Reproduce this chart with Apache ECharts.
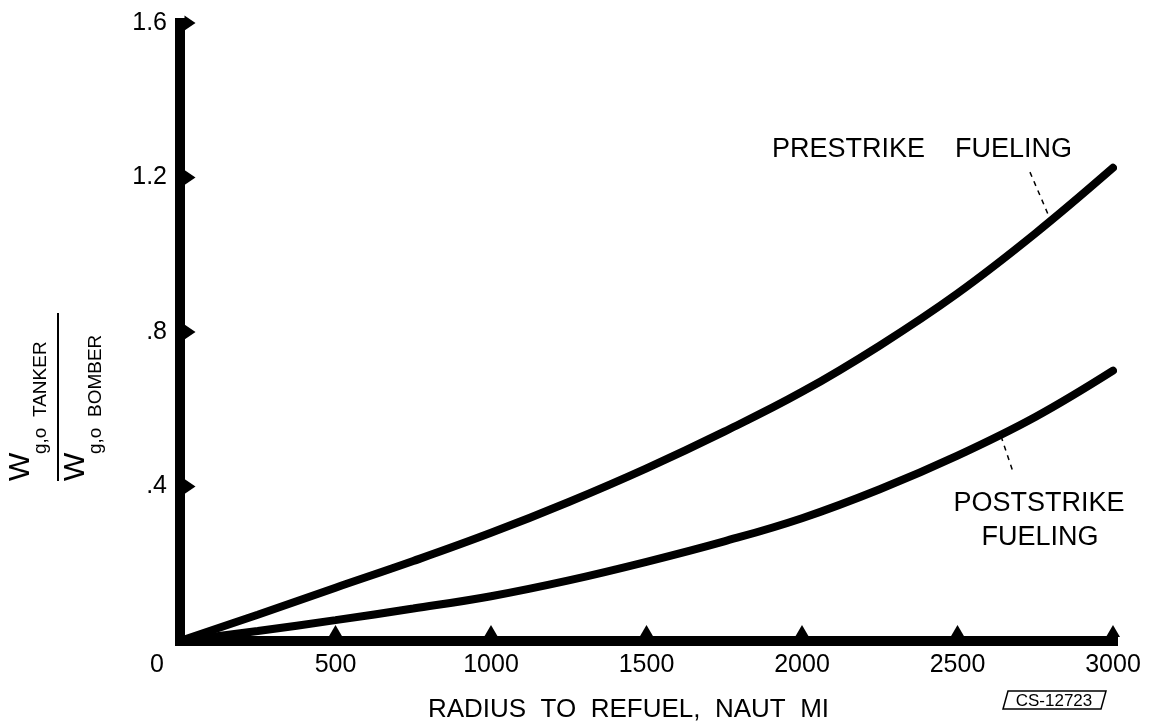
<!DOCTYPE html>
<html>
<head>
<meta charset="utf-8">
<script src="https://cdn.jsdelivr.net/npm/echarts@6/dist/echarts.min.js"></script>
<style>
  html, body { margin: 0; padding: 0; background: #fff; }
  #main { width: 1157px; height: 728px; }
</style>
</head>
<body>
<div id="main"></div>
<script>
var myChart = echarts.init(document.getElementById('main'));

// radius to refuel, naut mi
var radius = [0, 250, 500, 750, 1000, 1250, 1500, 1750, 2000, 2250, 2500, 2750, 3000];
// gross weight ratio tanker / bomber
var prestrike = [0, 0.068, 0.138, 0.207, 0.28, 0.36, 0.447, 0.542, 0.645, 0.765, 0.9, 1.055, 1.225];
var poststrike = [0, 0.026, 0.054, 0.084, 0.116, 0.157, 0.205, 0.258, 0.318, 0.393, 0.48, 0.58, 0.70];

var xTicks = [500, 1000, 1500, 2000, 2500, 3000];
var yTicks = [0.4, 0.8, 1.2, 1.6];
var yTickLabels = { '0.4': '.4', '0.8': '.8', '1.2': '1.2', '1.6': '1.6' };

var font = '"Liberation Sans", Arial, sans-serif';

function pairs(xs, ys) {
    return xs.map(function (x, i) { return [x, ys[i]]; });
}

option = {
    backgroundColor: '#ffffff',
    animation: false,
    grid: { left: 180, right: 44, top: 23, bottom: 75 },
    xAxis: {
        type: 'value',
        min: 0,
        max: 3000,
        interval: 500,
        name: 'RADIUS  TO  REFUEL,  NAUT  MI',
        nameLocation: 'middle',
        nameGap: 56,
        nameTextStyle: { color: '#000', fontSize: 26, fontFamily: font, padding: [0, 36, 0, 0] },
        axisLine: { lineStyle: { color: '#000', width: 10, cap: 'square' } },
        axisTick: { show: false },
        splitLine: { show: false },
        axisLabel: {
            color: '#000',
            fontSize: 25,
            fontFamily: font,
            margin: 12,
            formatter: function (v) { return v === 0 ? '{z|0}' : String(v); },
            rich: { z: { color: '#000', fontSize: 25, fontFamily: font, padding: [0, 46, 0, 0] } }
        }
    },
    yAxis: {
        type: 'value',
        min: 0,
        max: 1.6,
        interval: 0.4,
        axisLine: { lineStyle: { color: '#000', width: 10, cap: 'square' } },
        axisTick: { show: false },
        splitLine: { show: false },
        axisLabel: {
            color: '#000',
            fontSize: 25,
            fontFamily: font,
            margin: 13,
            formatter: function (v) { return yTickLabels[String(+v.toFixed(1))] || ''; }
        }
    },
    series: [
        {
            name: 'PRESTRIKE FUELING',
            type: 'line',
            smooth: 0.4,
            symbol: 'none',
            lineStyle: { color: '#000', width: 8, cap: 'round' },
            data: pairs(radius, prestrike),
            markLine: {
                silent: true,
                symbol: 'none',
                label: { show: false },
                lineStyle: { color: '#000', type: [5, 5], width: 1.5 },
                data: [[{ coord: [2733, 1.214] }, { coord: [2791, 1.105] }]]
            }
        },
        {
            name: 'POSTSTRIKE FUELING',
            type: 'line',
            smooth: 0.4,
            symbol: 'none',
            lineStyle: { color: '#000', width: 8, cap: 'round' },
            data: pairs(radius, poststrike),
            markLine: {
                silent: true,
                symbol: 'none',
                label: { show: false },
                lineStyle: { color: '#000', type: [5, 5], width: 1.5 },
                data: [[{ coord: [2640, 0.53] }, { coord: [2678, 0.439] }]]
            }
        },
        {
            // tick triangles on x axis
            type: 'scatter',
            symbol: 'triangle',
            symbolSize: [14, 12],
            symbolOffset: [0, -10],
            itemStyle: { color: '#000', opacity: 1 },
            silent: true,
            data: xTicks.map(function (x) { return [x, 0]; })
        },
        {
            // tick triangles on y axis
            type: 'scatter',
            symbol: 'triangle',
            symbolSize: [15, 11],
            symbolRotate: -90,
            symbolOffset: [10, 0],
            itemStyle: { color: '#000', opacity: 1 },
            silent: true,
            data: yTicks.map(function (y) { return [0, y]; })
        }
    ],
    graphic: [
        {
            type: 'group',
            x: 58,
            y: 397,
            rotation: Math.PI / 2,
            children: [
                { type: 'text', x: -84, y: -37, style: { text: 'W', font: '30px ' + font, fill: '#000', verticalAlign: 'middle' } },
                { type: 'text', x: -57, y: -17, style: { text: 'g,o  TANKER', font: '19px ' + font, fill: '#000', verticalAlign: 'middle' } },
                { type: 'line', shape: { x1: -84, y1: 0, x2: 84, y2: 0 }, style: { stroke: '#000', lineWidth: 2 } },
                { type: 'text', x: -84, y: 18, style: { text: 'W', font: '30px ' + font, fill: '#000', verticalAlign: 'middle' } },
                { type: 'text', x: -57, y: 38, style: { text: 'g,o  BOMBER', font: '19px ' + font, fill: '#000', verticalAlign: 'middle' } }
            ]
        },
        {
            type: 'text', x: 922, y: 150,
            style: { text: 'PRESTRIKE    FUELING', font: '27px ' + font, fill: '#000', align: 'center', verticalAlign: 'middle' }
        },
        {
            type: 'text', x: 1039, y: 504,
            style: { text: 'POSTSTRIKE', font: '27px ' + font, fill: '#000', align: 'center', verticalAlign: 'middle' }
        },
        {
            type: 'text', x: 1040, y: 538,
            style: { text: 'FUELING', font: '27px ' + font, fill: '#000', align: 'center', verticalAlign: 'middle' }
        },
        {
            type: 'polygon',
            shape: { points: [[1008, 691], [1106, 691], [1101, 709], [1003, 709]] },
            style: { fill: 'none', stroke: '#000', lineWidth: 1.5 }
        },
        {
            type: 'text', x: 1054, y: 701,
            style: { text: 'CS-12723', font: '17px ' + font, fill: '#000', align: 'center', verticalAlign: 'middle' }
        }
    ]
};

myChart.setOption(option);
</script>
</body>
</html>
